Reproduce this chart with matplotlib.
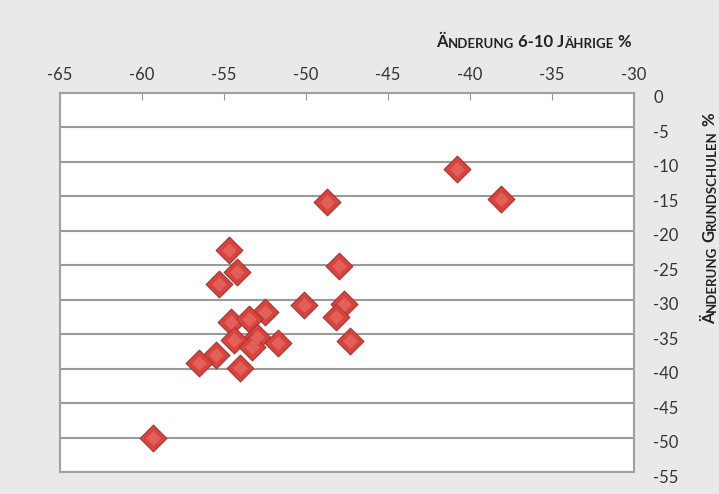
import matplotlib
matplotlib.use("Agg")
import matplotlib.pyplot as plt
from matplotlib.transforms import ScaledTranslation

# Änderung 6-10 Jährige % (x) vs. Änderung Grundschulen % (y)
kinder = [-40.8, -38.1, -48.7, -54.7, -54.2, -55.3, -48.0, -50.1, -47.7, -48.2,
          -47.3, -52.5, -54.6, -53.5, -53.0, -54.4, -53.3, -51.7, -55.5, -56.5,
          -54.0, -59.3]
schulen = [-11.1, -15.4, -15.8, -22.8, -26.0, -27.7, -25.1, -30.8, -30.6, -32.5,
           -36.0, -31.8, -33.2, -32.8, -35.4, -35.9, -36.9, -36.3, -38.0, -39.2,
           -39.9, -50.1]

x_ticks = [-65, -60, -55, -50, -45, -40, -35, -30]
y_ticks = [0, -5, -10, -15, -20, -25, -30, -35, -40, -45, -50, -55]

plt.rcParams['font.family'] = ['Lato', 'DejaVu Sans']
plt.rcParams['axes.unicode_minus'] = False

fig = plt.figure(figsize=(7.19, 4.94), dpi=100)
fig.patch.set_facecolor('#e9e9e9')
ax = fig.add_axes([0.0834, 0.0445, 0.7984, 0.7678])
ax.set_facecolor('white')

ax.scatter(kinder, schulen, marker='D', s=185, color='#d8433d',
           edgecolors='#a83430', linewidths=0.8, zorder=3)
# lighter top facet for a bevelled look
ax.scatter(kinder, schulen, marker='D', s=55, color='#e3605a',
           linewidths=0, zorder=4)

ax.set_xlim(-65, -30)
ax.set_ylim(-55, 0)
ax.set_xticks(x_ticks)
ax.set_yticks(y_ticks)
ax.xaxis.tick_top()
ax.yaxis.tick_right()
ax.tick_params(axis='x', direction='in', length=5, color='#999999',
               labelsize=12, labelcolor='#333333', pad=7)
ax.tick_params(axis='y', length=0, labelsize=12, labelcolor='#333333', pad=14)
shift = ScaledTranslation(0, -4 / 72, fig.dpi_scale_trans)
for lab in ax.get_yticklabels():
    lab.set_verticalalignment('center')
    lab.set_transform(lab.get_transform() + shift)
ax.grid(axis='y', color='#9a9a9a', linewidth=1.5, zorder=1)
for sp in ax.spines.values():
    sp.set_color('#a0a0a0')
    sp.set_linewidth(1.5)

style = dict(fontweight='bold', color='#222222', annotation_clip=False)

# x title in small caps: chain pieces of two sizes
x_parts = [('Ä', 12), ('NDERUNG', 9.5), (' 6-10 J', 12), ('ÄHRIGE', 9.5), (' %', 12)]
prev = fig.text(0.607, 0.905, x_parts[0][0], fontsize=x_parts[0][1],
                fontweight='bold', color='#222222', ha='left', va='baseline')
for txt, size in x_parts[1:]:
    prev = ax.annotate(txt, xy=(1, 0), xycoords=prev, fontsize=size,
                       ha='left', va='bottom', **style)

# y title in small caps, reading bottom to top
y_parts = [('Ä', 12), ('NDERUNG', 9.5), (' G', 12), ('RUNDSCHULEN', 9.5), (' %', 12)]
prev = fig.text(0.999, 0.345, y_parts[0][0], fontsize=y_parts[0][1],
                fontweight='bold', color='#222222', rotation=90,
                ha='right', va='bottom')
for txt, size in y_parts[1:]:
    prev = ax.annotate(txt, xy=(1, 1), xycoords=prev, fontsize=size,
                       rotation=90, ha='right', va='bottom', **style)

fig.savefig('out.png', dpi=100, facecolor=fig.get_facecolor())
